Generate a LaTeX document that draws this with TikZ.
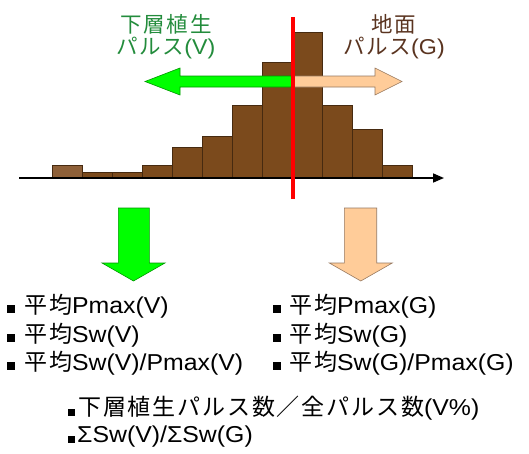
\documentclass[tikz,border=0pt]{standalone}
\usepackage{fontspec}
\setmainfont{Liberation Sans}[FakeStretch=1.08]
\newfontfamily\jp{Noto Sans CJK JP}[LetterSpace=8]
\usetikzlibrary{arrows.meta}
\definecolor{barfill}{RGB}{123,74,28}
\definecolor{barline}{RGB}{70,42,16}
\definecolor{barlight}{RGB}{142,96,56}
\definecolor{vgreen}{RGB}{0,255,0}
\definecolor{vgreenline}{RGB}{0,150,0}
\definecolor{peach}{RGB}{255,204,153}
\definecolor{peachline}{RGB}{150,120,95}
\definecolor{titlegreen}{RGB}{35,140,60}
\definecolor{titlebrown}{RGB}{90,52,32}
\newcommand\J[1]{{\jp #1}}
\newcommand\sqb{\rule[0.5pt]{8pt}{8pt}}
\newcommand\sqs{\rule[-0.5pt]{7pt}{7pt}}
\tikzset{
  bar/.style={fill=barfill, draw=barline, line width=0.6pt},
  txt/.style={inner sep=0pt, anchor=base west, font=\fontsize{23}{26}\selectfont},
  ttl/.style={inner sep=0pt, anchor=base, font=\fontsize{21.5}{26}\selectfont},
  garrow/.style={fill=vgreen, draw=vgreenline, line width=0.6pt},
  parrow/.style={fill=peach, draw=peachline, line width=0.6pt},
}
\begin{document}
\begin{tikzpicture}[x=1pt, y=-1pt]
\useasboundingbox (0,0) rectangle (529,453);
% histogram
\draw[bar, fill=barlight] (52,177) rectangle (82,165);
\foreach \xa/\top in {82/172, 112/172, 142/165, 172/147, 202/136, 232/105, 262/62, 292/32, 322/105, 352/129, 382/165}
  \draw[bar] (\xa,177) rectangle (\xa+30,\top);
% axis
\coordinate (axL) at (19,178);
\coordinate (axR) at (444,178);
\draw[line width=1.6pt, -{Triangle[length=11pt, width=9pt]}] (axL) -- (axR);
% horizontal arrows
\draw[garrow] (293,76) -- (180,76) -- (180,68) -- (145,81.5) -- (180,95) -- (180,87) -- (293,87) -- cycle;
\draw[parrow] (293,76) -- (375,76) -- (375,68) -- (402,81.5) -- (375,95) -- (375,87) -- (293,87) -- cycle;
% red line
\coordinate (rt) at (293,17);
\coordinate (rb) at (293,199);
\draw[red, line width=3.4pt] (rt) -- (rb);
% titles
\node[ttl, text=titlegreen] (t1) at (166,32.5) {\J{下層植生}};
\node[ttl, text=titlegreen] (t2) at (166,54) {\J{パルス}(V)};
\node[ttl, text=titlebrown] (t3) at (394,32.5) {\J{地面}};
\node[ttl, text=titlebrown] (t4) at (394,54) {\J{パルス}(G)};
% down arrows
\draw[garrow] (118.3,208) -- (149.3,208) -- (149.3,263) -- (165,263) -- (133.5,281) -- (102,263) -- (118.3,263) -- cycle;
\draw[parrow] (344.3,208) -- (376.7,208) -- (376.7,263) -- (392.3,263) -- (360.8,281) -- (329.3,263) -- (344.3,263) -- cycle;
% left list
\node[txt] (l1) at (7,313.5) {\sqb\hspace{9pt}\J{平均}Pmax(V)};
\node[txt] (l2) at (7,342) {\sqb\hspace{9pt}\J{平均}Sw(V)};
\node[txt] (l3) at (7,370) {\sqb\hspace{9pt}\J{平均}Sw(V)/Pmax(V)};
% right list
\node[txt] (r1) at (273,313.5) {\sqb\hspace{8pt}\J{平均}Pmax(G)};
\node[txt] (r2) at (273,342) {\sqb\hspace{8pt}\J{平均}Sw(G)};
\node[txt] (r3) at (273,370) {\sqb\hspace{8pt}\J{平均}Sw(G)/Pmax(G)};
% bottom
\node[txt] (b1) at (68,415) {\sqs\hspace{3pt}\J{下層植生パルス数／全パルス数}(V\%)};
\node[txt] (b2) at (68,442) {\sqs\hspace{2pt}ΣSw(V)/ΣSw(G)};
\end{tikzpicture}
\end{document}
